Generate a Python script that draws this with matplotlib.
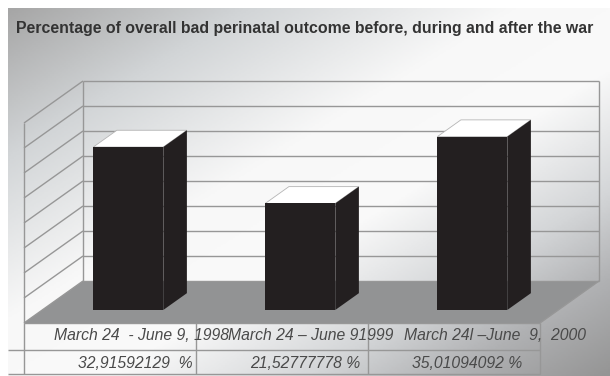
#plot.py
import numpy as np
import matplotlib
matplotlib.use("Agg")
import matplotlib.pyplot as plt
import matplotlib.colors as clr
from matplotlib.patches import Polygon

##Data
title = "Percentage of overall bad perinatal outcome before, during and after the war"
periods = ["March 24  - June 9, 1998", "March 24 – June 91999", "March 24l –June  9,  2000"]
percent = [32.91592129, 21.52777778, 35.01094092]
percent_labels = ["32,91592129  %", "21,52777778 %", "35,01094092 %"]
y_ticks = [0, 5, 10, 15, 20, 25, 30, 35, 40]

##Layout (pixels)
W, H = 610, 376
X0, X1 = 24, 540      # front edge of the floor
Y_FRONT = 323
DX, DY = 59, -42      # oblique offset front -> back
PX_PER_UNIT = 5.0
BAR_PX_PER_UNIT = 4.95
COL = (X1 - X0) / len(periods)
BAR_W = 70
D_FRONT, D_BACK = 0.31, 0.71
GRID = "#979797"
BAR = "#231f20"


def project(x, height, depth):
    #x along the floor, height in pixels upwards, depth 0 (front) -> 1 (back)
    return (x + DX * depth, Y_FRONT - height + DY * depth)


def poly(ax, pts, color, z, edge="none", lw=0):
    ax.add_patch(Polygon(pts, closed=True, facecolor=color, edgecolor=edge, linewidth=lw, zorder=z))


def line(ax, a, b, z=2, color=GRID, lw=1.0):
    ax.plot([a[0], b[0]], [a[1], b[1]], color=color, lw=lw, zorder=z, solid_capstyle="butt")


fig = plt.figure(figsize=(W / 100, H / 100), dpi=100)
ax = fig.add_axes([0, 0, 1, 1])
ax.set_xlim(0, W)
ax.set_ylim(H, 0)
ax.axis("off")

#Diagonal background: grey corners, white band in the middle
xx, yy = np.meshgrid(np.linspace(0, 1, 300), np.linspace(0, 1, 200))
cmap = clr.LinearSegmentedColormap.from_list("bg", [
    (0.0, "#a6a6a6"), (0.2, "#d2d5d7"), (0.42, "#f8f8f8"), (0.58, "#fafafa"),
    (0.75, "#d4d6d8"), (0.87, "#b0b1b3"), (1.0, "#959595")])
ax.imshow((xx + yy) / 2, cmap=cmap, vmin=0, vmax=1, extent=(8, W, H, 8), aspect="auto", zorder=0)

#Walls and floor
top = y_ticks[-1] * PX_PER_UNIT
poly(ax, [project(X0, 0, 0), project(X1, 0, 0), project(X1, 0, 1), project(X0, 0, 1)], "#929394", 1)
for v in y_ticks:
    h = v * PX_PER_UNIT
    line(ax, project(X0, h, 0), project(X0, h, 1))
    line(ax, project(X0, h, 1), project(X1, h, 1))
line(ax, project(X0, 0, 0), project(X0, top, 0))
line(ax, project(X0, 0, 1), project(X0, top, 1))
line(ax, project(X1, 0, 1), project(X1, top, 1))
line(ax, project(X1, 0, 0), project(X1, 0, 1))
line(ax, project(X0, 0, 0), project(X1, 0, 0))

#3D bars
for i, v in enumerate(percent):
    h = v * BAR_PX_PER_UNIT
    left = X0 + COL * (i + 0.5) - BAR_W / 2
    right = left + BAR_W
    poly(ax, [project(left, h, D_FRONT), project(right, h, D_FRONT),
              project(right, h, D_BACK), project(left, h, D_BACK)], "white", 3, "#b5b5b5", 0.6)
    poly(ax, [project(right, 0, D_FRONT), project(right, 0, D_BACK),
              project(right, h, D_BACK), project(right, h, D_FRONT)], BAR, 4)
    poly(ax, [project(left, 0, D_FRONT), project(right, 0, D_FRONT),
              project(right, h, D_FRONT), project(left, h, D_FRONT)], BAR, 5)

#Data table under the chart
ROW1, ROW2 = 350, 374
line(ax, (8, ROW1), (X1, ROW1))
line(ax, (8, ROW2), (X1, ROW2))
for i in range(len(periods) + 1):
    line(ax, (X0 + COL * i, Y_FRONT), (X0 + COL * i, ROW2))

period_x = [142, 311, 495]
value_x = [135, 305, 467]
for i in range(len(periods)):
    ax.text(period_x[i], 336, periods[i], family="Liberation Sans", style="italic", fontsize=11.3,
            color="#4a4a4a", ha="center", va="center", zorder=6)
    ax.text(value_x[i], 363, percent_labels[i], family="Liberation Sans", style="italic", fontsize=11.3,
            color="#4a4a4a", ha="center", va="center", zorder=6)

ax.text(16, 28, title, family="Liberation Sans", weight="bold", fontsize=11.4,
        color="#333333", ha="left", va="center", zorder=6)

fig.savefig("out.png", dpi=100)
